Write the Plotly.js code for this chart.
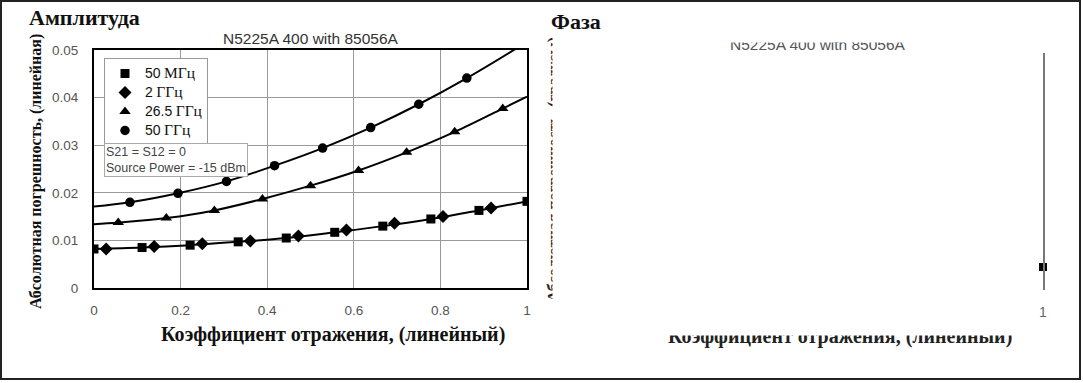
<!DOCTYPE html>
<html>
<head>
<meta charset="utf-8">
<script src="https://cdn.plot.ly/plotly-3.0.1.min.js"></script>
<style>html,body{margin:0;padding:0;background:#fff;}#chart{width:1083px;height:383px;}</style>
</head>
<body>
<div id="chart"></div>
<script>
// ---- data ----
const reflection50M = [0, 0.111, 0.222, 0.333, 0.444, 0.556, 0.667, 0.778, 0.889, 1.0];
const err50M = [0.0082, 0.0085, 0.0090, 0.0097, 0.0105, 0.0117, 0.0130, 0.0145, 0.0163, 0.0182];

const reflection2G = [0.028, 0.139, 0.25, 0.361, 0.472, 0.583, 0.694, 0.806, 0.917];
const err2G = [0.0082, 0.0087, 0.0093, 0.0099, 0.0109, 0.0122, 0.0136, 0.0150, 0.0168];

const reflection26G = [0.056, 0.167, 0.278, 0.389, 0.5, 0.611, 0.722, 0.833, 0.944];
const err26G = [0.01375, 0.0147, 0.0163, 0.0187, 0.0215, 0.0247, 0.0285, 0.0328, 0.0377];
const curveEnds26G = [0.0134, 0.0402];   // curve value at reflection 0 and 1

const reflection50G = [0.083, 0.194, 0.306, 0.417, 0.528, 0.639, 0.75, 0.861];
const err50G = [0.0180, 0.0199, 0.0224, 0.0257, 0.0294, 0.0337, 0.0386, 0.0441];
const curveEnds50G = [0.0171, 0.0517];

const phaseReflection = [1.0];
const phaseErr50M = [0.97];

const xTickVals = [0, 0.2, 0.4, 0.6, 0.8, 1];
const xTickText = ['0', '0.2', '0.4', '0.6', '0.8', '1'];
const yTickVals = [0, 0.01, 0.02, 0.03, 0.04, 0.05];
const yTickText = ['0', '0.01', '0.02', '0.03', '0.04', '0.05'];

const freqNumbers = ['50', '2', '26.5', '50'];
const freqUnits = ['МГц', 'ГГц', 'ГГц', 'ГГц'];

// ---- layout helpers ----
const W = 1083, H = 383;
const px = v => v / W;
const py = v => 1 - v / H;
const SERIF = "'Liberation Serif', 'Times New Roman', serif";
const SANS = "'Liberation Sans', Arial, sans-serif";

const seriesNames = freqNumbers.map((n, i) =>
  '<span style="font-size:14px">' + n + '</span> <span style="font-family:\'Liberation Serif\';font-size:15.5px">' + freqUnits[i] + '</span>');

const lineStyle = {color: '#000', width: 2, shape: 'spline', smoothing: 1};

const traces = [
  // curves
  {x: reflection50M, y: err50M, mode: 'lines', line: lineStyle, showlegend: false, hoverinfo: 'skip'},
  {x: [0, ...reflection26G, 1], y: [curveEnds26G[0], ...err26G, curveEnds26G[1]], mode: 'lines', line: lineStyle, showlegend: false, hoverinfo: 'skip'},
  {x: [0, ...reflection50G, 1], y: [curveEnds50G[0], ...err50G, curveEnds50G[1]], mode: 'lines', line: lineStyle, showlegend: false, hoverinfo: 'skip'},
  // markers
  {x: reflection50M, y: err50M, mode: 'markers', name: seriesNames[0], marker: {symbol: 'square', size: 9, color: '#000'}},
  {x: reflection2G, y: err2G, mode: 'markers', name: seriesNames[1], marker: {symbol: 'diamond', size: 10, color: '#000'}},
  {x: reflection26G, y: err26G, mode: 'markers', name: seriesNames[2], marker: {symbol: 'triangle-up', size: 10, color: '#000'}},
  {x: reflection50G, y: err50G, mode: 'markers', name: seriesNames[3], marker: {symbol: 'circle', size: 9.5, color: '#000'}},
  // phase panel (mostly hidden)
  {x: phaseReflection, y: phaseErr50M, xaxis: 'x2', yaxis: 'y2', mode: 'markers', showlegend: false, cliponaxis: false,
   marker: {symbol: 'square', size: 8, color: '#000'}}
];

const tickFont = {family: SANS, size: 13.5, color: '#555'};

const cover = (x0, y0, w, h) => ({
  xref: 'paper', yref: 'paper', x: px(x0), y: py(y0), xanchor: 'left', yanchor: 'top',
  text: ' ', width: w, height: h, bgcolor: '#fff', borderpad: 0, showarrow: false
});

const layout = {
  width: W, height: H,
  margin: {l: 0, r: 0, t: 0, b: 0},
  paper_bgcolor: '#fff', plot_bgcolor: '#fff',
  showlegend: true,
  xaxis: {
    domain: [px(94), px(527)], range: [0, 1], tickvals: xTickVals, ticktext: xTickText,
    showgrid: true, gridcolor: '#9a9a9a', gridwidth: 1, zeroline: false,
    showline: true, mirror: true, linecolor: '#000', linewidth: 2,
    ticks: '', ticklabelstandoff: 9, tickfont: tickFont, automargin: false, fixedrange: true
  },
  yaxis: {
    domain: [py(288), py(50)], range: [0, 0.05], tickvals: yTickVals, ticktext: yTickText,
    showgrid: true, gridcolor: '#9a9a9a', gridwidth: 1, zeroline: false,
    showline: true, mirror: true, linecolor: '#000', linewidth: 2,
    ticks: '', ticklabelstandoff: 11, tickfont: tickFont, automargin: false, fixedrange: true
  },
  xaxis2: {
    domain: [px(548), px(1043)], range: [0, 1], anchor: 'y2', tickvals: [1], ticktext: ['1'],
    showgrid: false, zeroline: false, showline: false, ticks: '', ticklabelstandoff: 12,
    tickfont: {family: SANS, size: 14, color: '#666'}, automargin: false, fixedrange: true
  },
  yaxis2: {
    domain: [py(290), py(53)], range: [0, 10], anchor: 'x2', side: 'right',
    showgrid: false, zeroline: false, showline: true, linecolor: '#777', linewidth: 2,
    showticklabels: false, ticks: '', automargin: false, fixedrange: true
  },
  legend: {
    x: px(104), y: py(58), xanchor: 'left', yanchor: 'top',
    bgcolor: '#fff', bordercolor: '#999', borderwidth: 1,
    font: {family: SANS, size: 12.3, color: '#111'}, itemwidth: 30, tracegroupgap: 0
  },
  shapes: [
    {type: 'rect', xref: 'paper', yref: 'paper', x0: px(1), x1: px(1080), y0: py(379), y1: py(1),
     line: {color: '#222', width: 2}, fillcolor: 'rgba(0,0,0,0)', layer: 'above'}
  ],
  annotations: [
    {xref: 'paper', yref: 'paper', x: px(27), y: py(17), xanchor: 'left', yanchor: 'middle', showarrow: false,
     text: '<b>Амплитуда</b>', font: {family: SERIF, size: 22, color: '#111'}},
    {xref: 'paper', yref: 'paper', x: px(549), y: py(21), xanchor: 'left', yanchor: 'middle', showarrow: false,
     text: '<b>Фаза</b>', font: {family: SERIF, size: 22, color: '#111'}},
    {xref: 'paper', yref: 'paper', x: px(311), y: py(38), xanchor: 'center', yanchor: 'middle', showarrow: false,
     text: 'N5225A 400 with 85056A', font: {family: SANS, size: 15.5, color: '#333'}},
    {xref: 'paper', yref: 'paper', x: px(36), y: py(172), xanchor: 'center', yanchor: 'middle', showarrow: false,
     textangle: -90, text: '<b>Абсолютная погрешность, (линейная)</b>', font: {family: SERIF, size: 16, color: '#111'}},
    {xref: 'paper', yref: 'paper', x: px(333), y: py(334), xanchor: 'center', yanchor: 'middle', showarrow: false,
     text: '<b>Коэффициент отражения, (линейный)</b>', font: {family: SERIF, size: 20, color: '#111'}},
    {xref: 'paper', yref: 'paper', x: px(104), y: py(143), xanchor: 'left', yanchor: 'top', showarrow: false,
     align: 'left', text: 'S21 = S12 = 0<br>Source Power = -15 dBm', font: {family: SANS, size: 12.5, color: '#444'},
     bgcolor: '#fff', bordercolor: '#aaa', borderwidth: 1, borderpad: 1},
    // phase panel texts (partially hidden in the reference)
    {xref: 'paper', yref: 'paper', x: px(818), y: py(44), xanchor: 'center', yanchor: 'middle', showarrow: false,
     text: 'N5225A 400 with 85056A', font: {family: SANS, size: 15.5, color: '#555'}},
    {xref: 'paper', yref: 'paper', x: px(840), y: py(336), xanchor: 'center', yanchor: 'middle', showarrow: false,
     text: '<b>Коэффициент отражения, (линейный)</b>', font: {family: SERIF, size: 20, color: '#222'}},
    {xref: 'paper', yref: 'paper', x: px(543), y: py(170), xanchor: 'left', yanchor: 'middle', showarrow: false,
     textangle: -90, text: '<b>Абсолютная погрешность, (градусы)</b>', font: {family: SERIF, size: 16, color: '#222'}},
    // white masks reproducing the covered parts of the phase panel
    cover(700, 28, 240, 13),
    cover(640, 318, 390, 16),
    cover(551.5, 30, 22, 280)
  ]
};

Plotly.newPlot('chart', traces, layout, {displayModeBar: false, staticPlot: true});
</script>
</body>
</html>
